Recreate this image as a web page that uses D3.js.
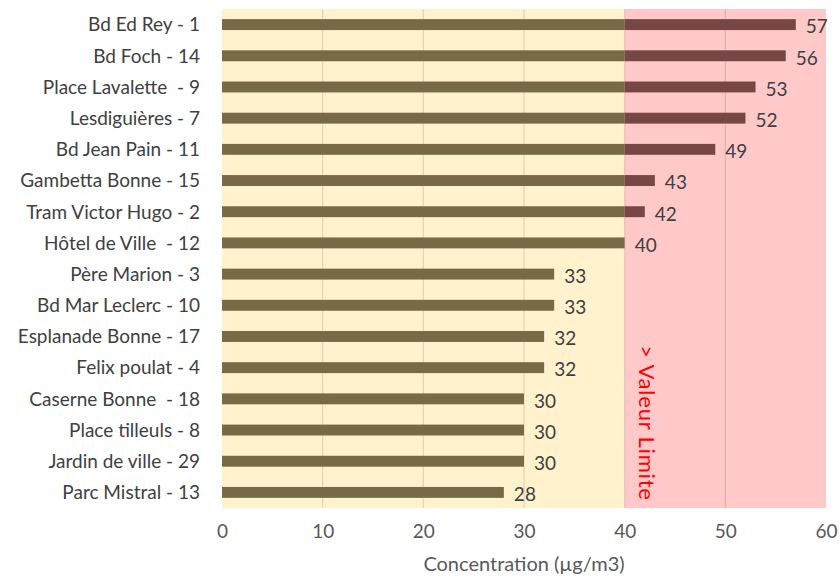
<!DOCTYPE html>
<html>
<head>
<meta charset="utf-8">
<script src="https://cdn.jsdelivr.net/npm/d3@7"></script>
<style>
  html, body { margin: 0; padding: 0; background: #fff; }
  svg { display: block; }
  text { font-family: Lato, "Open Sans", sans-serif; }
</style>
</head>
<body>
<svg id="chart" width="839" height="576"></svg>
<script>
// Sites (top to bottom) and their mean NO2 concentration
const sites = [
  "Bd Ed Rey - 1", "Bd Foch - 14", "Place Lavalette  - 9", "Lesdiguières - 7",
  "Bd Jean Pain - 11", "Gambetta Bonne - 15", "Tram Victor Hugo - 2", "Hôtel de Ville  - 12",
  "Père Marion - 3", "Bd Mar Leclerc - 10", "Esplanade Bonne - 17", "Felix poulat - 4",
  "Caserne Bonne  - 18", "Place tilleuls - 8", "Jardin de ville - 29", "Parc Mistral - 13"
];
const concentrations = [57, 56, 53, 52, 49, 43, 42, 40, 33, 33, 32, 32, 30, 30, 30, 28];
const xTicks = [0, 10, 20, 30, 40, 50, 60];
const limitValue = 40;
const xMax = 60;

const svg = d3.select("#chart");
const margin = { left: 222, right: 13, top: 9, bottom: 68 };
const W = 839, H = 576;

const x = d3.scaleLinear().domain([0, xMax]).range([margin.left, W - margin.right]);
const y = d3.scaleBand().domain(sites).range([margin.top, H - margin.bottom]).paddingInner(0.65).paddingOuter(0.325);

// Background zones: below and above the limit value
svg.append("rect")
  .attr("x", x(0)).attr("y", margin.top)
  .attr("width", x(limitValue) - x(0)).attr("height", H - margin.bottom - margin.top)
  .attr("fill", "#FFF2CC");
svg.append("rect")
  .attr("x", x(limitValue)).attr("y", margin.top)
  .attr("width", x(xMax) - x(limitValue)).attr("height", H - margin.bottom - margin.top)
  .attr("fill", "#FFC9C9");

// Vertical gridlines
svg.append("g").selectAll("line")
  .data(xTicks.filter(d => d > 0 && d < xMax))
  .join("line")
  .attr("x1", d => x(d)).attr("x2", d => x(d))
  .attr("y1", margin.top).attr("y2", H - margin.bottom)
  .attr("stroke", "rgba(0,0,0,0.12)").attr("stroke-width", 1.2);

const rows = sites.map((s, i) => ({ s, v: concentrations[i] }));

// Bars: part below the limit
svg.append("g").selectAll("rect")
  .data(rows)
  .join("rect")
  .attr("x", x(0))
  .attr("y", d => y(d.s))
  .attr("width", d => x(Math.min(d.v, limitValue)) - x(0))
  .attr("height", y.bandwidth())
  .attr("fill", "#776A47");

// Bars: part exceeding the limit
svg.append("g").selectAll("rect")
  .data(rows.filter(d => d.v > limitValue))
  .join("rect")
  .attr("x", x(limitValue))
  .attr("y", d => y(d.s))
  .attr("width", d => x(d.v) - x(limitValue))
  .attr("height", y.bandwidth())
  .attr("fill", "#774747");

// Value labels
svg.append("g").selectAll("text")
  .data(rows)
  .join("text")
  .attr("x", d => x(d.v) + 10)
  .attr("y", d => y(d.s) + y.bandwidth() / 2 + 2)
  .attr("dy", "0.36em")
  .attr("font-size", 19)
  .attr("fill", "#404040")
  .text(d => d.v);

// Category axis labels
svg.append("g").selectAll("text")
  .data(sites)
  .join("text")
  .attr("x", 200)
  .attr("y", d => y(d) + y.bandwidth() / 2)
  .attr("dy", "0.36em")
  .attr("text-anchor", "end")
  .attr("font-size", 19)
  .attr("fill", "#404040")
  .attr("xml:space", "preserve")
  .text(d => d);

// Value axis tick labels
const xAxis = d3.axisBottom(x).tickValues(xTicks).tickSize(0).tickPadding(0).tickFormat(d3.format("d"));
const gx = svg.append("g").attr("transform", `translate(0,${H - margin.bottom + 16})`).call(xAxis);
gx.select(".domain").remove();
gx.selectAll("text")
  .attr("font-size", 19)
  .attr("fill", "#595959")
  .attr("font-family", "Lato, 'Open Sans', sans-serif");

// Axis title
svg.append("text")
  .attr("x", (x(0) + x(xMax)) / 2)
  .attr("y", 571)
  .attr("text-anchor", "middle")
  .attr("font-size", 20)
  .attr("fill", "#595959")
  .text("Concentration (µg/m3)");

// Limit annotation, rotated
svg.append("text")
  .attr("transform", `translate(${x(limitValue) + 22},423) rotate(90)`)
  .attr("text-anchor", "middle")
  .attr("dy", "0.36em")
  .attr("font-size", 22)
  .attr("letter-spacing", 0.8)
  .attr("fill", "#FF0000")
  .attr("xml:space", "preserve")
  .text("> Valeur Limite");
</script>
</body>
</html>
